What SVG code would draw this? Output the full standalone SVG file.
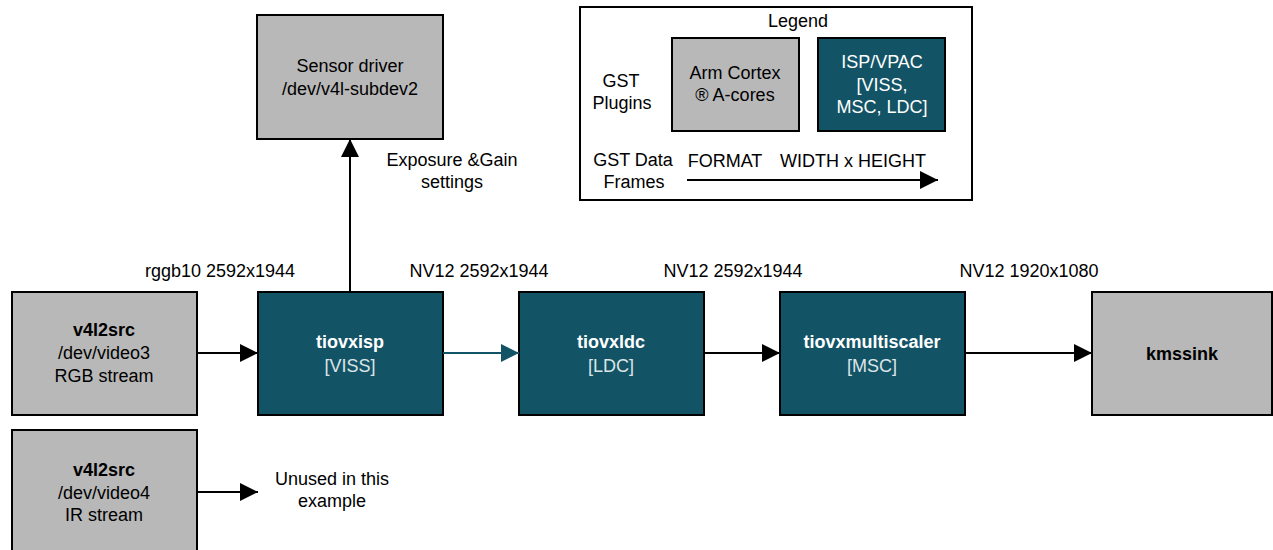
<svg xmlns="http://www.w3.org/2000/svg" width="1273" height="550" viewBox="0 0 1273 550">
  <defs>
    <style>
      text { font-family: "Liberation Sans", Arial, sans-serif; font-size: 18px; fill: #000; text-anchor: middle; }
      .b { font-weight: bold; }
      .w { fill: #ffffff; }
      .sub { fill: #dde4e7; }
      .arm { fill: #b8b8b8; stroke: #000; stroke-width: 2; }
      .isp { fill: #125466; stroke: #000; stroke-width: 2; }
      .frame { fill: #fff; stroke: #000; stroke-width: 2; }
      .link { fill: none; stroke: #000; stroke-width: 2; }
      .link-teal { fill: none; stroke: #125466; stroke-width: 2; }
    </style>
    <marker id="arrow" viewBox="0 0 18 18" refX="18" refY="9" markerWidth="18" markerHeight="18" markerUnits="userSpaceOnUse" orient="auto">
      <path d="M0,0 L18,9 L0,18 Z" fill="#000"/>
    </marker>
    <marker id="arrow-teal" viewBox="0 0 18 18" refX="18" refY="9" markerWidth="18" markerHeight="18" markerUnits="userSpaceOnUse" orient="auto">
      <path d="M0,0 L18,9 L0,18 Z" fill="#125466"/>
    </marker>
  </defs>

  <!-- Legend -->
  <g id="legend">
    <rect class="frame" x="580" y="7" width="392" height="193"/>
    <text x="798" y="27">Legend</text>
    <text x="621" y="87">GST</text>
    <text x="622" y="109">Plugins</text>
    <rect class="arm" x="672" y="38" width="127" height="93"/>
    <text x="735" y="79">Arm Cortex</text>
    <text x="735" y="101">® A-cores</text>
    <rect class="isp" x="818" y="38" width="127" height="93"/>
    <text class="w" x="882" y="68">ISP/VPAC</text>
    <text class="w" x="882" y="91">[VISS,</text>
    <text class="w" x="882" y="113">MSC, LDC]</text>
    <text x="633" y="166">GST Data</text>
    <text x="634" y="188">Frames</text>
    <text x="725" y="167">FORMAT</text>
    <text x="853" y="167">WIDTH x HEIGHT</text>
    <line class="link" x1="687" y1="180" x2="938" y2="180" marker-end="url(#arrow)"/>
  </g>

  <!-- Nodes -->
  <g id="sensor-driver">
    <rect class="arm" x="257" y="15" width="186" height="124"/>
    <text x="350" y="72">Sensor driver</text>
    <text x="350" y="95">/dev/v4l-subdev2</text>
  </g>

  <g id="v4l2src-rgb">
    <rect class="arm" x="12" y="292" width="185" height="123"/>
    <text class="b" x="104" y="336">v4l2src</text>
    <text x="104" y="359">/dev/video3</text>
    <text x="104" y="382">RGB stream</text>
  </g>

  <g id="v4l2src-ir">
    <rect class="arm" x="12" y="430" width="185" height="130"/>
    <text class="b" x="104" y="476">v4l2src</text>
    <text x="104" y="499">/dev/video4</text>
    <text x="104" y="521">IR stream</text>
  </g>

  <g id="tiovxisp">
    <rect class="isp" x="258" y="292" width="185" height="123"/>
    <text class="b w" x="350" y="348">tiovxisp</text>
    <text class="sub" x="350" y="372">[VISS]</text>
  </g>

  <g id="tiovxldc">
    <rect class="isp" x="519" y="292" width="185" height="123"/>
    <text class="b w" x="611" y="348">tiovxldc</text>
    <text class="sub" x="611" y="372">[LDC]</text>
  </g>

  <g id="tiovxmultiscaler">
    <rect class="isp" x="780" y="292" width="185" height="123"/>
    <text class="b w" x="872" y="348">tiovxmultiscaler</text>
    <text class="sub" x="872" y="372">[MSC]</text>
  </g>

  <g id="kmssink">
    <rect class="arm" x="1092" y="292" width="180" height="123"/>
    <text class="b" x="1182" y="360">kmssink</text>
  </g>

  <!-- Connectors -->
  <g id="connectors">
    <line class="link" x1="350" y1="292" x2="350" y2="139" marker-end="url(#arrow)"/>
    <line class="link" x1="197" y1="353" x2="258" y2="353" marker-end="url(#arrow)"/>
    <line class="link-teal" x1="443" y1="353" x2="519" y2="353" marker-end="url(#arrow-teal)"/>
    <line class="link" x1="704" y1="353" x2="780" y2="353" marker-end="url(#arrow)"/>
    <line class="link" x1="965" y1="353" x2="1092" y2="353" marker-end="url(#arrow)"/>
    <line class="link" x1="197" y1="492" x2="258" y2="492" marker-end="url(#arrow)"/>
  </g>

  <!-- Connector labels -->
  <g id="labels">
    <text x="452" y="166">Exposure &amp;Gain</text>
    <text x="452" y="188">settings</text>
    <text x="220" y="277">rggb10 2592x1944</text>
    <text x="479" y="277">NV12 2592x1944</text>
    <text x="733" y="277">NV12 2592x1944</text>
    <text x="1029" y="277">NV12 1920x1080</text>
    <text x="332" y="485">Unused in this</text>
    <text x="332" y="507">example</text>
  </g>
</svg>
